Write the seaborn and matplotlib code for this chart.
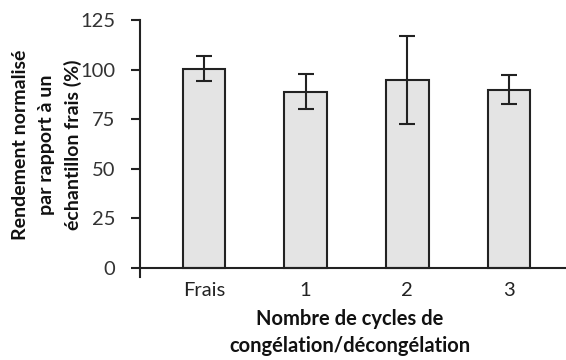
import matplotlib
matplotlib.use("Agg")
import matplotlib.pyplot as plt
import seaborn as sns

# values
cycles = ["Frais", "1", "2", "3"]
rendement = [100.5, 89.0, 95.0, 90.0]
erreur = [6.2, 8.8, 22.2, 7.3]

sns.set_theme(style="white")
plt.rcParams["font.family"] = ["Lato", "DejaVu Sans"]

fig = plt.figure(figsize=(5.66, 3.6), dpi=100)
ax = fig.add_axes([0.247, 0.231, 0.753, 0.713])

sns.barplot(x=cycles, y=rendement, color="#e4e4e4", edgecolor="#222222",
            linewidth=1.5, width=0.42, saturation=1, ax=ax)
ax.errorbar(range(len(cycles)), rendement, yerr=erreur, fmt="none",
            ecolor="#222222", elinewidth=1.5, capsize=6, capthick=1.5)

ax.set_ylim(-4.5, 125)
ax.set_xlim(-0.63, 3.56)
ax.set_yticks([0, 25, 50, 75, 100, 125])

ax.spines["top"].set_visible(False)
ax.spines["right"].set_visible(False)
ax.spines["bottom"].set_position(("data", 0))
for s in ("left", "bottom"):
    ax.spines[s].set_color("#222222")
    ax.spines[s].set_linewidth(1.5)

ax.tick_params(axis="y", direction="out", length=6.5, width=1.5, color="#222222",
               pad=11, labelsize=14.5, labelcolor="#333333", left=True)
ax.tick_params(axis="x", length=0, pad=10, labelsize=14.5, labelcolor="#222222")

ax.set_xlabel("Nombre de cycles de\ncongélation/décongélation",
              fontsize=14.5, fontweight="bold", color="#111111", linespacing=1.45)
ax.set_ylabel("Rendement normalisé\npar rapport à un\néchantillon frais (%)",
              fontsize=14, fontweight="bold", color="#111111", linespacing=1.6)
# place labels in figure pixels (566 x 360)
ax.xaxis.set_label_coords(350 / 566, 1 - 309 / 360, transform=fig.transFigure)
ax.xaxis.label.set_va("top")
ax.yaxis.set_label_coords(47 / 566, 1 - 145 / 360, transform=fig.transFigure)
ax.yaxis.label.set_va("center")

fig.savefig("out.png", dpi=100)
plt.close(fig)
